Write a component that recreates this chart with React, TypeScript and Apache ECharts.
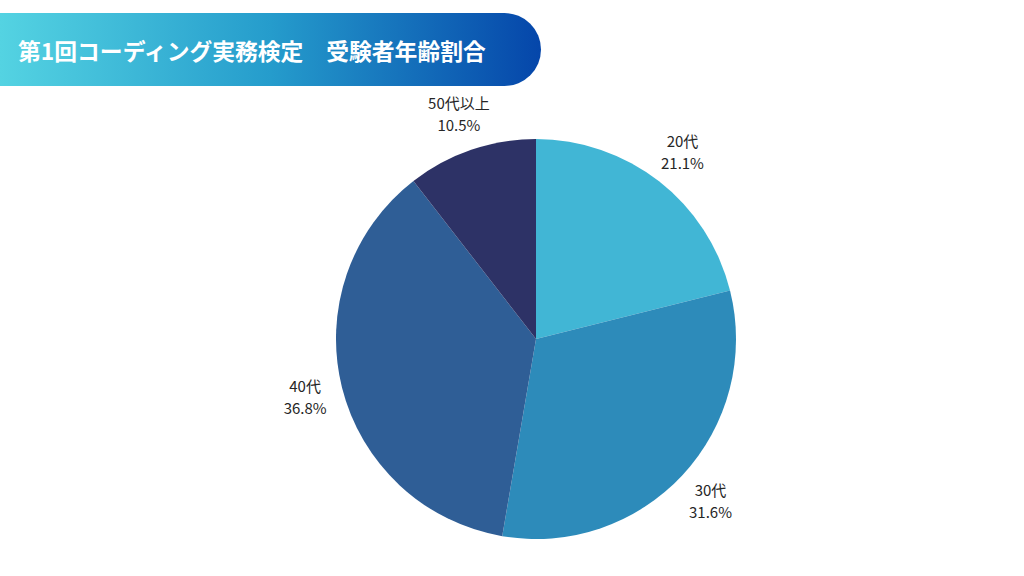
import React, { useEffect, useRef } from "react";
import * as echarts from "echarts";

const titleText = "第1回コーディング実務検定　受験者年齢割合";
const categories = ["20代", "30代", "40代", "50代以上"];
const shares = [21.1, 31.6, 36.8, 10.5];
const sliceColors = ["#41b6d5", "#2d8bba", "#2f5e96", "#2d3266"];

export default function App() {
  const ref = useRef<HTMLDivElement>(null);
  useEffect(() => {
    if (!ref.current) return;
    const chart = echarts.init(ref.current, undefined, { renderer: "svg" });
    const data = categories.map((name, i) => ({
      name,
      value: shares[i],
      itemStyle: { color: sliceColors[i] },
    }));
    chart.setOption({
      animation: false,
      backgroundColor: "#ffffff",
      graphic: [
        {
          type: "rect",
          shape: { x: 0, y: 13, width: 541, height: 73, r: [0, 36.5, 36.5, 0] },
          style: {
            fill: new echarts.graphic.LinearGradient(0, 0, 1, 0, [
              { offset: 0, color: "#54d3e2" },
              { offset: 0.5, color: "#259ccc" },
              { offset: 1, color: "#0546aa" },
            ]),
          },
          z: 1,
        },
        {
          type: "text",
          x: 18,
          y: 50,
          style: {
            text: titleText,
            fill: "#ffffff",
            font: 'bold 22.8px "Noto Sans CJK JP", "Noto Sans", sans-serif',
            textVerticalAlign: "middle",
          },
          z: 2,
        },
      ],
      series: [
        {
          type: "pie",
          center: [536, 339],
          radius: [0, 200],
          startAngle: 90,
          clockwise: true,
          silent: true,
          label: { show: false },
          labelLine: { show: false },
          itemStyle: { borderWidth: 0 },
          data,
        },
        {
          type: "pie",
          center: [536, 339],
          radius: [202, 268],
          startAngle: 90,
          clockwise: true,
          silent: true,
          itemStyle: { color: "rgba(0,0,0,0)", borderWidth: 0 },
          labelLine: { show: false },
          label: {
            show: true,
            position: "inside",
            formatter: (p: any) => `${p.name}\n${p.value.toFixed(1)}%`,
            color: "#262626",
            fontSize: 15,
            lineHeight: 22,
            fontFamily: '"Noto Sans CJK JP", "Noto Sans", sans-serif',
            align: "center",
          },
          data: categories.map((name, i) => ({ name, value: shares[i] })),
        },
      ],
    });
    return () => chart.dispose();
  }, []);
  return (
    <div
      ref={ref}
      style={{ position: "fixed", left: 0, top: 0, width: 1024, height: 576 }}
    />
  );
}
